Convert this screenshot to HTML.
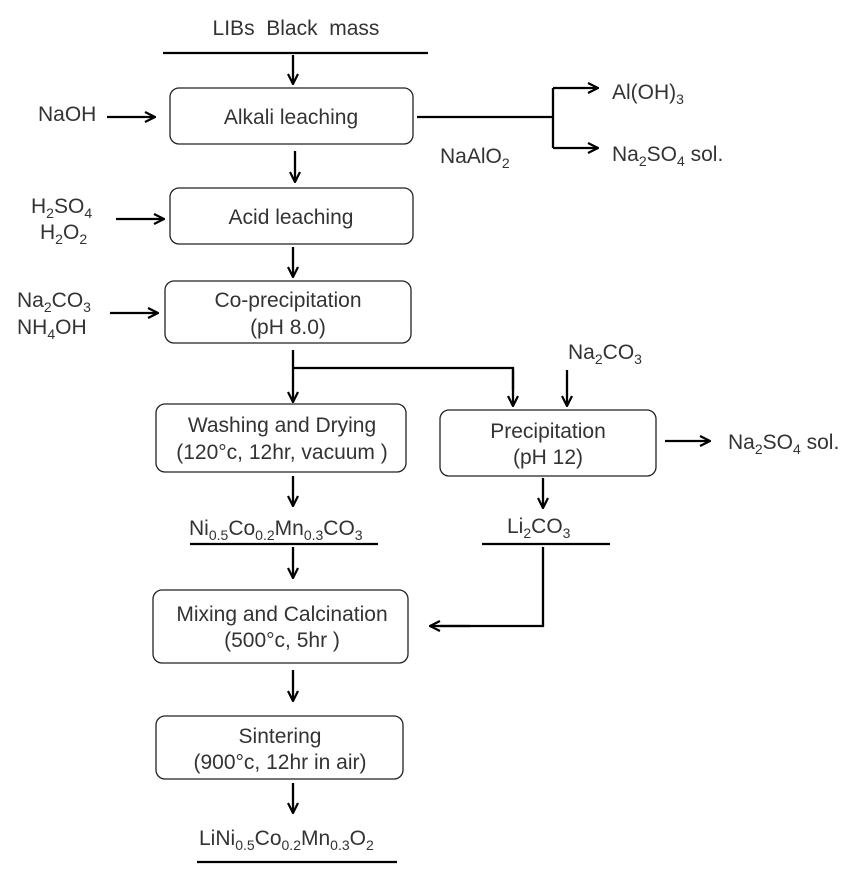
<!DOCTYPE html>
<html><head><meta charset="utf-8"><style>
html,body{margin:0;padding:0;background:#fff;}
svg{display:block;}
text{font-family:"Liberation Sans",Arial,sans-serif;font-size:21px;fill:#333;}
.c{text-anchor:middle;}
tspan.s{font-size:14px;}
</style></head><body>
<svg width="868" height="880" viewBox="0 0 868 880" xmlns="http://www.w3.org/2000/svg">
<defs>
<marker id="a" viewBox="0 0 12 12" refX="11" refY="6" markerWidth="12" markerHeight="12" markerUnits="userSpaceOnUse" orient="auto">
<path d="M1,1 L11,6 L1,11" fill="none" stroke="#000" stroke-width="2.2"/>
</marker>
</defs>
<g fill="none" stroke="#222" stroke-width="1.3">
<rect x="170" y="88" width="243" height="56" rx="9"/>
<rect x="170" y="188" width="243" height="56" rx="9"/>
<rect x="165" y="281" width="246" height="62" rx="9"/>
<rect x="156" y="404" width="250" height="68" rx="9"/>
<rect x="440" y="410" width="216" height="66" rx="9"/>
<rect x="153" y="590" width="255" height="73" rx="9"/>
<rect x="156" y="716" width="247" height="63" rx="9"/>
</g>
<g fill="none" stroke="#000" stroke-width="2.3">
<line x1="163" y1="53" x2="428" y2="53"/>
<line x1="293" y1="55" x2="293" y2="84" marker-end="url(#a)"/>
<line x1="107" y1="117" x2="155" y2="117" marker-end="url(#a)"/>
<polyline points="417,117 553,117"/>
<polyline points="553,88 553,148"/>
<line x1="553" y1="88" x2="598" y2="88" marker-end="url(#a)"/>
<line x1="553" y1="148" x2="598" y2="148" marker-end="url(#a)"/>
<line x1="295" y1="151" x2="295" y2="182" marker-end="url(#a)"/>
<line x1="116" y1="219" x2="164" y2="219" marker-end="url(#a)"/>
<line x1="293" y1="247" x2="293" y2="277" marker-end="url(#a)"/>
<line x1="110" y1="313" x2="158" y2="313" marker-end="url(#a)"/>
<line x1="293" y1="350" x2="293" y2="402" marker-end="url(#a)"/>
<polyline points="293,368 513,368 513,390"/>
<line x1="513" y1="370" x2="513" y2="406" marker-end="url(#a)"/>
<line x1="567" y1="370" x2="567" y2="406" marker-end="url(#a)"/>
<line x1="665" y1="441" x2="710" y2="441" marker-end="url(#a)"/>
<line x1="293" y1="476" x2="293" y2="506" marker-end="url(#a)"/>
<line x1="543" y1="478" x2="543" y2="508" marker-end="url(#a)"/>
<line x1="190" y1="544" x2="378" y2="544"/>
<line x1="482" y1="544" x2="610" y2="544"/>
<line x1="293" y1="547" x2="293" y2="578" marker-end="url(#a)"/>
<polyline points="543,547 543,626 440,626"/>
<line x1="470" y1="626" x2="430" y2="626" marker-end="url(#a)"/>
<line x1="293" y1="670" x2="293" y2="701" marker-end="url(#a)"/>
<line x1="293" y1="783" x2="293" y2="813" marker-end="url(#a)"/>
<line x1="197" y1="862" x2="397" y2="862"/>
</g>
<text x="296" y="35" class="c">LIBs&#160; Black&#160; mass</text>
<text x="38" y="121">NaOH</text>
<text x="291" y="124" class="c">Alkali leaching</text>
<text x="612" y="99">Al(OH)<tspan class="s" dy="5">3</tspan></text>
<text x="612" y="161">Na<tspan class="s" dy="5">2</tspan><tspan dy="-5">SO</tspan><tspan class="s" dy="5">4</tspan><tspan dy="-5"> sol.</tspan></text>
<text x="440" y="163">NaAlO<tspan class="s" dy="5">2</tspan></text>
<text x="31" y="213">H<tspan class="s" dy="5">2</tspan><tspan dy="-5">SO</tspan><tspan class="s" dy="5">4</tspan></text>
<text x="40" y="239">H<tspan class="s" dy="5">2</tspan><tspan dy="-5">O</tspan><tspan class="s" dy="5">2</tspan></text>
<text x="291" y="224" class="c">Acid leaching</text>
<text x="17" y="307">Na<tspan class="s" dy="5">2</tspan><tspan dy="-5">CO</tspan><tspan class="s" dy="5">3</tspan></text>
<text x="17" y="334">NH<tspan class="s" dy="5">4</tspan><tspan dy="-5">OH</tspan></text>
<text x="288" y="307" class="c">Co-precipitation</text>
<text x="288" y="334" class="c">(pH 8.0)</text>
<text x="568" y="359">Na<tspan class="s" dy="5">2</tspan><tspan dy="-5">CO</tspan><tspan class="s" dy="5">3</tspan></text>
<text x="282" y="432" class="c">Washing and Drying</text>
<text x="282" y="459" class="c">(120°c, 12hr, vacuum )</text>
<text x="548" y="438" class="c">Precipitation</text>
<text x="548" y="464" class="c">(pH 12)</text>
<text x="728" y="449">Na<tspan class="s" dy="5">2</tspan><tspan dy="-5">SO</tspan><tspan class="s" dy="5">4</tspan><tspan dy="-5"> sol.</tspan></text>
<text x="189" y="535">Ni<tspan class="s" dy="5">0.5</tspan><tspan dy="-5">Co</tspan><tspan class="s" dy="5">0.2</tspan><tspan dy="-5">Mn</tspan><tspan class="s" dy="5">0.3</tspan><tspan dy="-5">CO</tspan><tspan class="s" dy="5">3</tspan></text>
<text x="507" y="533">Li<tspan class="s" dy="5">2</tspan><tspan dy="-5">CO</tspan><tspan class="s" dy="5">3</tspan></text>
<text x="282" y="621" class="c">Mixing and Calcination</text>
<text x="282" y="647" class="c">(500°c, 5hr )</text>
<text x="280" y="743" class="c">Sintering</text>
<text x="280" y="769" class="c">(900°c, 12hr in air)</text>
<text x="199" y="845">LiNi<tspan class="s" dy="5">0.5</tspan><tspan dy="-5">Co</tspan><tspan class="s" dy="5">0.2</tspan><tspan dy="-5">Mn</tspan><tspan class="s" dy="5">0.3</tspan><tspan dy="-5">O</tspan><tspan class="s" dy="5">2</tspan></text>
</svg>
</body></html>
